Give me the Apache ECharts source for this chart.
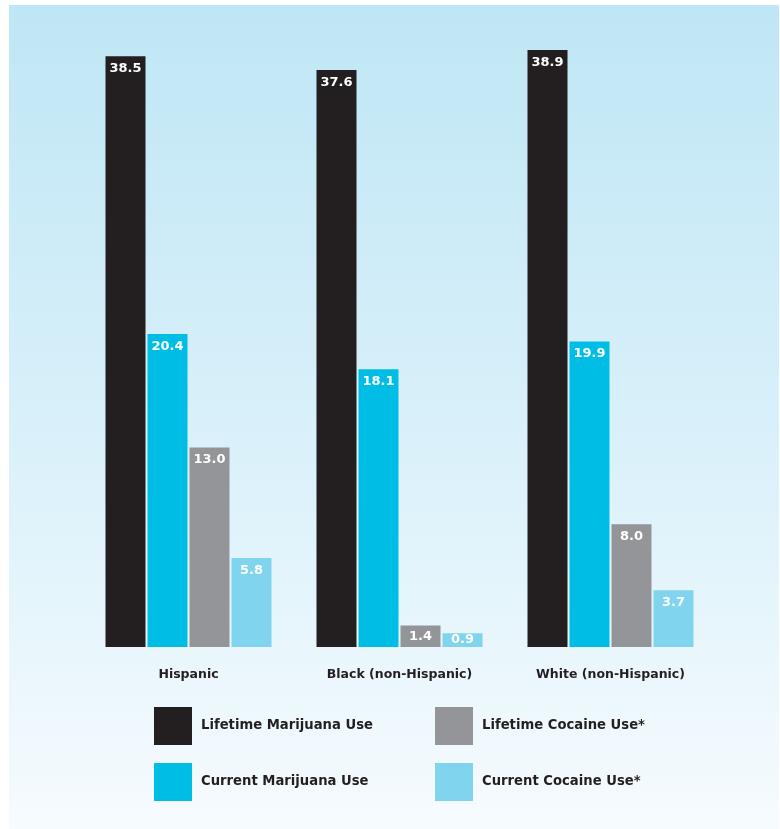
<!DOCTYPE html>
<html>
<head>
<meta charset="utf-8">
<script src="https://cdn.jsdelivr.net/npm/echarts@6/dist/echarts.min.js"></script>
<style>
  html, body { margin: 0; padding: 0; background: #ffffff; }
  #chart { width: 780px; height: 829px; }
</style>
</head>
<body>
<div id="chart"></div>
<script>
// Population groups on the category axis
const groups = ['Hispanic', 'Black (non-Hispanic)', 'White (non-Hispanic)'];

// Percent reporting use, per group
const lifetimeMarijuana = [38.5, 37.6, 38.9];
const currentMarijuana  = [20.4, 18.1, 19.9];
const lifetimeCocaine   = [13.0, 1.4, 8.0];
const currentCocaine    = [5.8, 0.9, 3.7];

const seriesNames = [
  'Lifetime Marijuana Use',
  'Current Marijuana Use',
  'Lifetime Cocaine Use*',
  'Current Cocaine Use*'
];
const seriesData = [lifetimeMarijuana, currentMarijuana, lifetimeCocaine, currentCocaine];
const seriesColors = ['#231f20', '#00bde5', '#939598', '#80d4ee'];

const font = 'DejaVu Sans';
const ink = '#231f20';

function makeSeries(i) {
  return {
    name: seriesNames[i],
    type: 'bar',
    barWidth: 40,
    barGap: '5%',
    itemStyle: { color: seriesColors[i] },
    data: seriesData[i].map(v => ({
      value: v,
      // very short bars carry their value centred rather than at the top
      label: v < 2 ? { position: 'inside' } : undefined
    })),
    label: {
      show: true,
      position: 'insideTop',
      distance: 6,
      color: '#ffffff',
      fontFamily: font,
      fontWeight: 'bold',
      fontSize: 13,
      formatter: p => p.value.toFixed(1)
    }
  };
}

const chart = echarts.init(document.getElementById('chart'), null, { renderer: 'canvas' });

const legendText = {
  color: ink,
  fontFamily: font,
  fontWeight: 'bold',
  fontSize: 13.2,
  padding: [0, 0, 0, 4]
};

chart.setOption({
  backgroundColor: '#ffffff',
  animation: false,
  graphic: [{
    type: 'rect',
    z: -10,
    silent: true,
    shape: { x: 9, y: 5, width: 770, height: 824 },
    style: {
      fill: new echarts.graphic.LinearGradient(0, 0, 0, 1, [
        { offset: 0, color: '#bfe6f5' },
        { offset: 0.5, color: '#d8f0fa' },
        { offset: 1, color: '#f6fbfe' }
      ])
    }
  }],
  grid: { left: 83, right: 64, top: 50, bottom: 182 },
  xAxis: {
    type: 'category',
    data: groups,
    axisLine: { show: false },
    axisTick: { show: false },
    axisLabel: {
      margin: 21,
      color: ink,
      fontFamily: font,
      fontWeight: 'bold',
      fontSize: 12.5
    }
  },
  yAxis: {
    type: 'value',
    min: 0,
    max: v => v.max,
    show: false,
    splitLine: { show: false }
  },
  legend: [
    {
      data: [seriesNames[0], seriesNames[1]],
      orient: 'vertical',
      left: 154,
      top: 707,
      itemWidth: 38,
      itemHeight: 38,
      itemGap: 18,
      icon: 'rect',
      padding: 0,
      selectedMode: false,
      textStyle: legendText
    },
    {
      data: [seriesNames[2], seriesNames[3]],
      orient: 'vertical',
      left: 435,
      top: 707,
      itemWidth: 38,
      itemHeight: 38,
      itemGap: 18,
      icon: 'rect',
      padding: 0,
      selectedMode: false,
      textStyle: legendText
    }
  ],
  series: [0, 1, 2, 3].map(makeSeries)
});
</script>
</body>
</html>
